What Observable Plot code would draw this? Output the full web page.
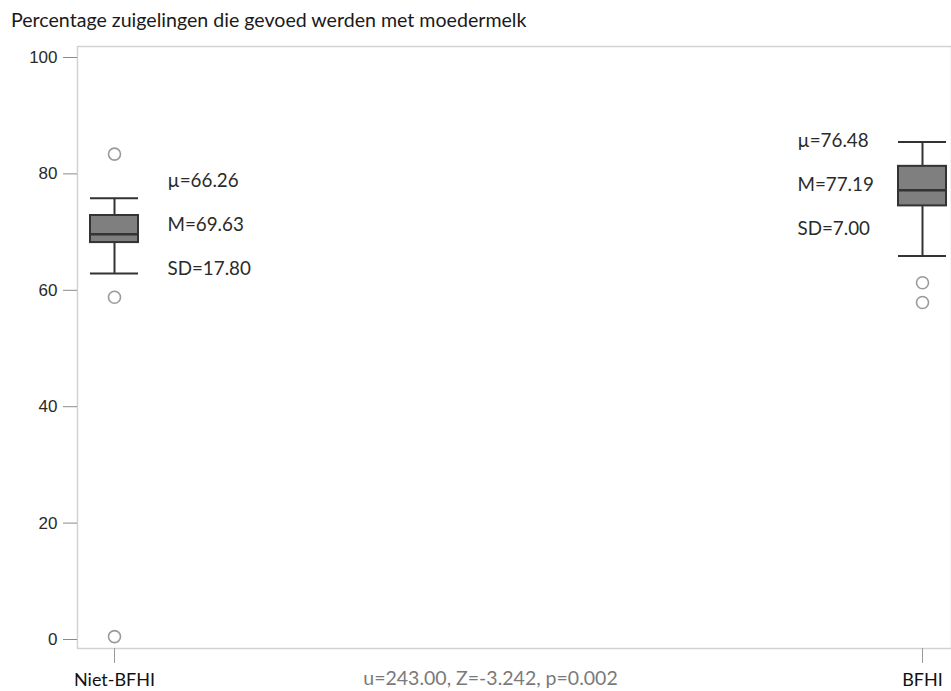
<!DOCTYPE html>
<html>
<head>
<meta charset="utf-8">
<script src="https://cdn.jsdelivr.net/npm/d3@7"></script>
<script src="https://cdn.jsdelivr.net/npm/@observablehq/plot@0.6"></script>
<style>
  html, body { margin: 0; padding: 0; background: #fff; }
  #wrap { position: relative; width: 951px; height: 691px; overflow: hidden; }
  #title { position: absolute; left: 11px; top: 10px; font: 19.6px/19.6px Lato, sans-serif; color: #1a1a1a; white-space: nowrap; }
  #chart { position: absolute; left: 0; top: 0; }
</style>
</head>
<body>
<div id="wrap">
  <div id="chart"></div>
  <div id="title">Percentage zuigelingen die gevoed werden met moedermelk</div>
</div>
<script>
// Groups and their box-plot summaries
const groups = ["Niet-BFHI", "BFHI"];
const whiskerLow = [62.9, 65.9];
const q1 = [68.2, 74.5];
const median = [69.63, 77.19];
const q3 = [72.85, 81.3];
const whiskerHigh = [75.8, 85.5];
const mean = [66.26, 76.48];
const sd = [17.80, 7.00];

// Outlying observations
const outlierGroup = ["Niet-BFHI", "Niet-BFHI", "Niet-BFHI", "BFHI", "BFHI"];
const outlierValue = [83.4, 58.8, 0.5, 61.3, 57.9];

const yTicks = [0, 20, 40, 60, 80, 100];
const testNote = "u=243.00, Z=-3.242, p=0.002";

const boxes = groups.map((g, i) => ({
  group: g, lo: whiskerLow[i], q1: q1[i], median: median[i], q3: q3[i], hi: whiskerHigh[i],
  label: `µ=${mean[i].toFixed(2)}\nM=${median[i].toFixed(2)}\nSD=${sd[i].toFixed(2)}`
}));
const outliers = outlierGroup.map((g, i) => ({group: g, value: outlierValue[i]}));

const calibriLike = "Lato, sans-serif";

const chart = Plot.plot({
  width: 951,
  height: 691,
  marginLeft: 77,
  marginRight: 0,
  marginTop: 46,
  marginBottom: 43,
  x: {type: "band", domain: groups, paddingInner: 0.94, paddingOuter: 0, insetLeft: 12.5, insetRight: 4.5},
  y: {domain: [0, 100], insetTop: 11, insetBottom: 9},
  marks: [
    Plot.frame({stroke: "#d2d2d2", strokeWidth: 1.5}),
    Plot.axisY({ticks: yTicks, tickSize: 14, tickPadding: 6, fontSize: 17, fontFamily: "Liberation Sans, Arial, sans-serif", fill: "#2a2a2a", stroke: "#8a8a8a", label: null}),
    Plot.axisX({tickSize: 15, tickPadding: 10, fontSize: 18, fontFamily: calibriLike, fill: "#111", stroke: "#9a9a9a", label: null}),
    // whiskers and caps
    Plot.ruleX(boxes, {x: "group", y1: "lo", y2: "hi", stroke: "#333", strokeWidth: 2}),
    Plot.tickY(boxes, {x: "group", y: "lo", stroke: "#333", strokeWidth: 2}),
    Plot.tickY(boxes, {x: "group", y: "hi", stroke: "#333", strokeWidth: 2}),
    // interquartile box and median
    Plot.barY(boxes, {x: "group", y1: "q1", y2: "q3", fill: "#7f7f7f", stroke: "#333", strokeWidth: 2}),
    Plot.tickY(boxes, {x: "group", y: "median", stroke: "#333", strokeWidth: 2.5}),
    // outliers
    Plot.dot(outliers, {x: "group", y: "value", r: 6, stroke: "#9a9a9a", strokeWidth: 1.6, fill: "#fff"}),
    // summary annotations
    Plot.text(boxes.slice(0, 1), {x: "group", y: "median", text: "label", textAnchor: "start", lineAnchor: "middle", lineHeight: 2.33, dx: 53, dy: -17, fontSize: 18.8, fontFamily: calibriLike, fill: "#2a2a2a"}),
    Plot.text(boxes.slice(1), {x: "group", y: "median", text: "label", textAnchor: "start", lineAnchor: "middle", lineHeight: 2.33, dx: -125, dy: -13, fontSize: 18.8, fontFamily: calibriLike, fill: "#2a2a2a"}),
    // test statistics under the axis
    Plot.text([testNote], {text: d => d, frameAnchor: "bottom", lineAnchor: "middle", dx: -24, dy: 30, fontSize: 19.5, fontFamily: calibriLike, fill: "#7a7a7a"})
  ]
});
document.getElementById("chart").appendChild(chart);
</script>
</body>
</html>
